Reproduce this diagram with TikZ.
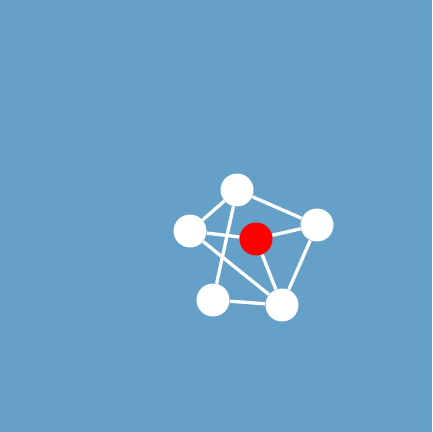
\documentclass[tikz,border=0pt]{standalone}
\definecolor{bgblue}{RGB}{100,160,200}
\begin{document}
\begin{tikzpicture}[x=0.02cm,y=-0.02cm]
    \fill[bgblue] (0,0) rectangle (432,432);
    \useasboundingbox (0,0) rectangle (432,432);

    \node[circle, fill=white, minimum size=0.66cm, inner sep=0pt] (top) at (237,190) {};
    \node[circle, fill=white, minimum size=0.66cm, inner sep=0pt] (left) at (190,231) {};
    \node[circle, fill=white, minimum size=0.66cm, inner sep=0pt] (right) at (317,225) {};
    \node[circle, fill=white, minimum size=0.66cm, inner sep=0pt] (botleft) at (213,300) {};
    \node[circle, fill=white, minimum size=0.66cm, inner sep=0pt] (botright) at (282,305) {};
    \node[circle, fill=red, minimum size=0.66cm, inner sep=0pt] (hub) at (256,239) {};

    \draw[white, line width=1.9pt] (top) -- (left);
    \draw[white, line width=1.9pt] (top) -- (right);
    \draw[white, line width=1.9pt] (top) -- (botleft);
    \draw[white, line width=1.9pt] (left) -- (hub);
    \draw[white, line width=1.9pt] (hub) -- (right);
    \draw[white, line width=1.9pt] (left) -- (botright);
    \draw[white, line width=1.9pt] (hub) -- (botright);
    \draw[white, line width=1.9pt] (right) -- (botright);
    \draw[white, line width=1.9pt] (botleft) -- (botright);
  \end{tikzpicture}
\end{document}
